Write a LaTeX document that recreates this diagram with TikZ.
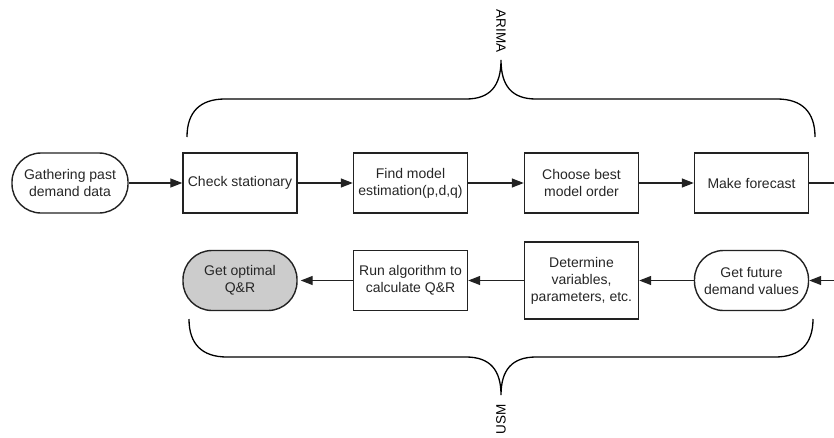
\documentclass[tikz,border=0pt]{standalone}
\usepackage{fontspec}
\setmainfont{Liberation Sans}
\usetikzlibrary{arrows.meta}
\definecolor{edge}{HTML}{222222}
\definecolor{donefill}{HTML}{CCCCCC}
\begin{document}
\begin{tikzpicture}[x=1pt,y=-1pt,
  font=\fontsize{14}{17}\selectfont,
  box/.style={draw=edge,line width=1.4pt,minimum width=114pt,minimum height=60pt,
    inner sep=0pt,align=center,text=black!85},
  term/.style={box,rounded corners=29pt},
  flow/.style={draw=edge,line width=1.3pt,-{Triangle[length=12pt,width=9pt]}},
  brace/.style={draw=black,line width=1.3pt},
  tag/.style={font=\fontsize{13.5}{16}\selectfont,inner sep=0pt}]
\useasboundingbox (0,0) rectangle (834,437);

% top row
\node[term,minimum width=116pt] (gather) at (70,183) {Gathering past\\demand data};
\node[box] (check) at (240,183) {Check stationary};
\node[box] (find) at (410.5,183) {Find model\\estimation(p,d,q)};
\node[box] (choose) at (581.5,183) {Choose best\\model order};
\node[box] (fcast) at (751.5,183) {Make forecast};
\coordinate (outR) at (834,183);

% bottom row
\node[term,fill=donefill] (optimal) at (240,280.5) {Get optimal\\Q\&R};
\node[box] (run) at (410.5,280.5) {Run algorithm to\\calculate Q\&R};
\node[box,minimum height=77pt] (determine) at (581.5,280.5) {Determine\\variables,\\parameters, etc.};
\node[term] (future) at (751.5,280.5) {Get future\\demand values};
\coordinate (inR) at (834,280.5);

% connectors
\draw[flow] (gather) -- (check);
\draw[flow] (check) -- (find);
\draw[flow] (find) -- (choose);
\draw[flow] (choose) -- (fcast);
\draw[draw=edge,line width=1.3pt] (fcast) -- (outR);
\draw[flow] (inR) -- (future);
\draw[flow] (future) -- (determine);
\draw[flow] (determine) -- (run);
\draw[flow,shorten >=3pt] (run) -- (optimal);

% ARIMA brace
\coordinate (atip) at (501,60);
\draw[brace] (187,137) .. controls (187,112) and (200,99) .. (225,99) -- (466,99)
  .. controls (490,99) and (501,86) .. (atip)
  .. controls (501,86) and (512,99) .. (536,99) -- (777,99)
  .. controls (802,99) and (815,112) .. (815,137);
\node[tag,rotate=-90] (arima) at (501,31) {ARIMA};

% USM brace
\coordinate (utip) at (501,395);
\draw[brace] (189,319) .. controls (189,344) and (202,357) .. (227,357) -- (466,357)
  .. controls (490,357) and (501,370) .. (utip)
  .. controls (501,370) and (512,357) .. (536,357) -- (775,357)
  .. controls (800,357) and (813,344) .. (813,319);
\node[tag,rotate=90] (usm) at (501,419) {USM};
\end{tikzpicture}
\end{document}
